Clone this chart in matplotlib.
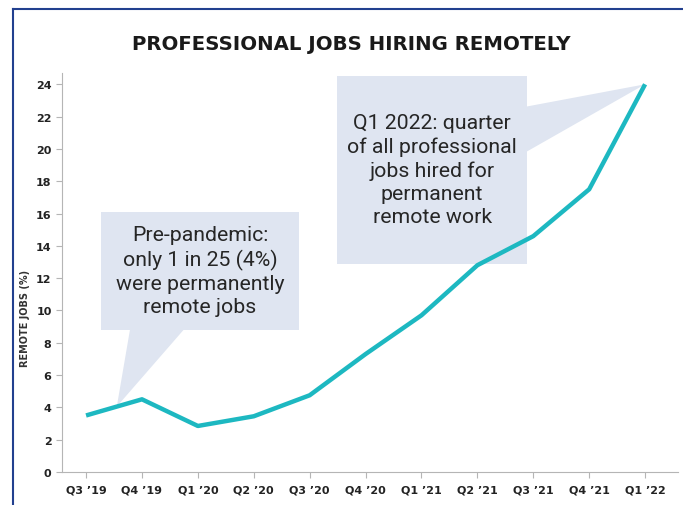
import matplotlib.pyplot as plt
from matplotlib.patches import Polygon
from matplotlib.lines import Line2D

# Data
quarters = ["Q3 \u201919", "Q4 \u201919", "Q1 \u201920", "Q2 \u201920", "Q3 \u201920", "Q4 \u201920",
            "Q1 \u201921", "Q2 \u201921", "Q3 \u201921", "Q4 \u201921", "Q1 \u201922"]
remote_pct = [3.5, 4.5, 2.85, 3.45, 4.75, 7.3, 9.7, 12.8, 14.6, 17.5, 24.0]

title = "PROFESSIONAL JOBS HIRING REMOTELY"
ylabel = "REMOTE JOBS (%)"
note_pre = "Pre-pandemic:\nonly 1 in 25 (4%)\nwere permanently\nremote jobs"
note_now = "Q1 2022: quarter\nof all professional\njobs hired for\npermanent\nremote work"

line_col = "#1db8c1"
box_col = "#dfe5f1"

fig = plt.figure(figsize=(6.83, 5.06), dpi=100)
fig.patch.set_facecolor("white")
ax = fig.add_axes([0.0908, 0.0652, 0.902, 0.7886])

x = list(range(len(quarters)))

# Callout 1 (pre-pandemic) - tail points on the line between Q3'19 and Q4'19
tip1_x = 0.55
tip1_y = remote_pct[0] + (remote_pct[1] - remote_pct[0]) * tip1_x
ax.add_patch(Polygon([(0.27, 8.78), (3.81, 8.78), (3.81, 16.08), (0.27, 16.08)],
                     closed=True, facecolor=box_col, edgecolor="none", zorder=1))
ax.add_patch(Polygon([(0.79, 8.9), (1.77, 8.9), (tip1_x, tip1_y)],
                     closed=True, facecolor=box_col, edgecolor="none", zorder=1))
ax.text(2.04, 12.45, note_pre, ha="center", va="center", fontsize=15.3,
        family="Roboto", color="#262626", linespacing=1.28, zorder=2)

# Callout 2 (Q1 2022) - tail points at last value
ax.add_patch(Polygon([(4.49, 12.86), (7.89, 12.86), (7.89, 24.49), (4.49, 24.49)],
                     closed=True, facecolor=box_col, edgecolor="none", zorder=1))
ax.add_patch(Polygon([(7.8, 22.57), (7.8, 19.67), (x[-1], remote_pct[-1])],
                     closed=True, facecolor=box_col, edgecolor="none", zorder=1))
ax.text(6.19, 18.7, note_now, ha="center", va="center", fontsize=15.3,
        family="Roboto", color="#262626", linespacing=1.28, zorder=2)

ax.plot(x, remote_pct, color=line_col, linewidth=3.2, solid_capstyle="butt", zorder=3)

ax.set_xlim(-0.43, 10.59)
ax.set_ylim(0, 24.7)
ax.set_xticks(x)
ax.set_xticklabels(quarters)
ax.set_yticks(range(0, 25, 2))

for s in ["top", "right"]:
    ax.spines[s].set_visible(False)
for s in ["left", "bottom"]:
    ax.spines[s].set_color("#b5b5b5")
    ax.spines[s].set_linewidth(0.8)
ax.tick_params(axis="both", colors="#b5b5b5", length=4, width=0.8,
               labelcolor="#222222", labelsize=8)
for lab in ax.get_xticklabels() + ax.get_yticklabels():
    lab.set_fontweight("semibold")
ax.tick_params(axis="x", pad=5)

fig.text(0.515, 0.913, title, ha="center", va="center", fontsize=14.2,
         fontweight="bold", color="#1a1a1a")
fig.text(25 / 683, 1 - 318 / 506, ylabel, rotation=90, ha="center", va="center",
         fontsize=7, fontweight="semibold", color="#333333")

# frame lines at top and left
fig.add_artist(Line2D([13 / 683, 13 / 683], [0, 1 - 10 / 506], color="#22408f", linewidth=1.5))
fig.add_artist(Line2D([13 / 683, 1], [1 - 10 / 506, 1 - 10 / 506], color="#22408f", linewidth=1.5))

fig.savefig("out.png", dpi=100)
